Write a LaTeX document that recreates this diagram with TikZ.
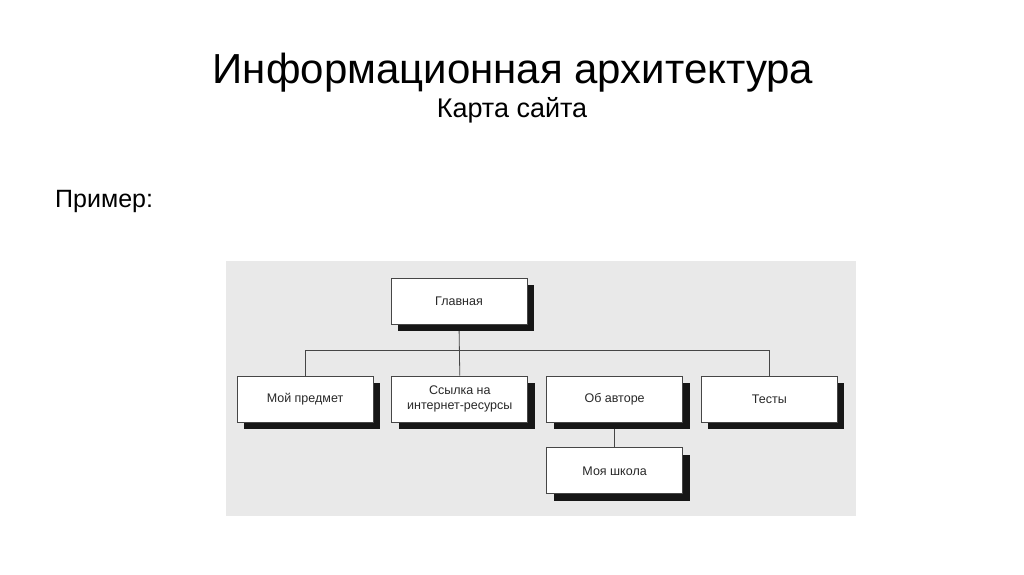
\documentclass[tikz,border=0pt]{standalone}
\usepackage{fontspec}
\setmainfont{Liberation Sans}
\usetikzlibrary{positioning, shadows, backgrounds, calc}
\definecolor{panelbg}{RGB}{233, 233, 233}
\definecolor{boxline}{RGB}{70, 70, 70}
\definecolor{shadowc}{RGB}{22, 22, 22}
\definecolor{textc}{RGB}{40, 40, 40}
\tikzset{
    pagebox/.style={rectangle, draw=boxline, fill=white, line width=0.8pt, align=center, text=textc,
        minimum width=136pt, minimum height=46pt, inner sep=2pt,
        font=\fontsize{12.5}{15}\selectfont,
        drop shadow={shadow xshift=7pt, shadow yshift=-7pt, opacity=1, fill=shadowc}},
    link/.style={draw=boxline, line width=0.8pt}
}

\begin{document}
\begin{tikzpicture}[x=1pt, y=-1pt]
    \useasboundingbox (0,0) rectangle (1024,574);

    % Headings
    \node (title) [anchor=base, font=\fontsize{42}{46}\selectfont] at (513,83) {Информационная архитектура};
    \node (subtitle) [anchor=base, font=\fontsize{27}{30}\selectfont] at (512,117) {Карта сайта};
    \node (example) [anchor=base west, inner sep=0pt, font=\fontsize{25}{28}\selectfont] at (55,207) {Пример:};

    % Site map pages
    \node (main) [pagebox] at (459,301) {Главная};
    \node (mine) [pagebox] at (305,399) {Мой предмет};
    \node (links) [pagebox, right=18pt of mine] {Ссылка на\\интернет-ресурсы};
    \node (author) [pagebox, right=18pt of links] {Об авторе};
    \node (tests) [pagebox, right=18pt of author] {Тесты};
    \node (school) [pagebox, below=25pt of author] {Моя школа};

    % Panel and connectors
    \begin{scope}[on background layer]
        \fill [panelbg] (226,261) rectangle (856,516);
        \coordinate (bus) at ($(main.south)!0.5!(links.north)$);
        \draw [link] (main.south) -- (links.north);
        \draw [link] (mine.north) |- (bus) -| (tests.north);
        \draw [link] (author.south) -- (school.north);
    \end{scope}

\end{tikzpicture}
\end{document}
